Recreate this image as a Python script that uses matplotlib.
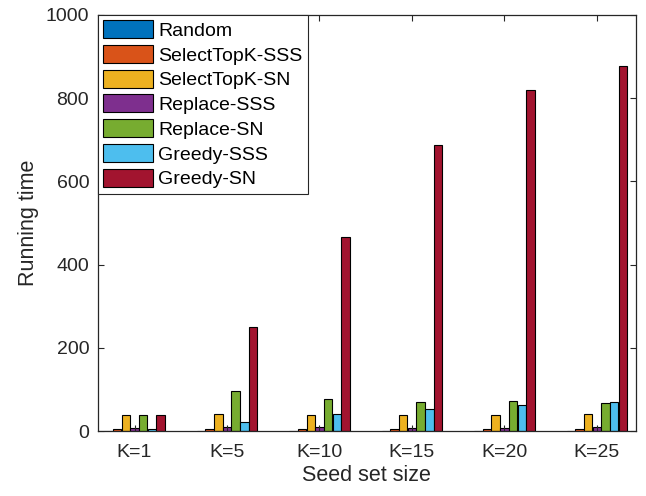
import numpy as np
import matplotlib.pyplot as plt

plt.rcParams['font.family'] = ['Liberation Sans', 'DejaVu Sans']

groups = ['K=1', 'K=5', 'K=10', 'K=15', 'K=20', 'K=25']
methods = ['Random', 'SelectTopK-SSS', 'SelectTopK-SN', 'Replace-SSS',
           'Replace-SN', 'Greedy-SSS', 'Greedy-SN']

# running time per method, one value per seed set size
random_t = [0.5, 0.5, 0.5, 0.5, 0.5, 0.5]
topk_sss = [4, 4, 4, 4, 4, 4]
topk_sn = [38, 40, 38, 38, 38, 42]
replace_sss = [8, 10, 9, 8, 8, 10]
replace_sn = [38, 95, 77, 69, 72, 67]
greedy_sss = [4, 22, 41, 52, 63, 70]
greedy_sn = [38, 249, 466, 688, 820, 876]

series = [random_t, topk_sss, topk_sn, replace_sss, replace_sn, greedy_sss, greedy_sn]
colors = ['#0072BD', '#D95319', '#EDB120', '#7E2F8E', '#77AC30', '#4DBEEE', '#A2142F']

fig = plt.figure(figsize=(6.46, 4.96), dpi=100)
ax = fig.add_axes([0.151, 0.131, 0.833, 0.839])

x = np.arange(1, len(groups) + 1)
slot = 0.094
for i, (vals, c, name) in enumerate(zip(series, colors, methods)):
    offs = (i - (len(series) - 1) / 2) * slot
    ax.bar(x + offs, vals, width=slot * 0.97, color=c, edgecolor='black',
           linewidth=0.8, label=name)

ax.set_xlim(0.6, 6.42)
ax.set_ylim(0, 1000)
ax.set_xticks(x)
ax.set_xticklabels(groups)
ax.set_yticks(np.arange(0, 1001, 200))
ax.tick_params(direction='in', length=4, width=0.8, labelsize=14,
               top=True, right=True, colors='#262626')
ax.tick_params(axis='x', pad=9)
ax.tick_params(axis='y', pad=6)
for s in ax.spines.values():
    s.set_linewidth(0.9)
    s.set_color('#262626')

ax.set_xlabel('Seed set size', fontsize=15.5, color='#262626', labelpad=3)
ax.set_ylabel('Running time', fontsize=15.5, color='#262626', labelpad=5)

leg = ax.legend(loc='upper left', bbox_to_anchor=(0, 1), borderaxespad=0,
                fontsize=14, handlelength=2.55, handleheight=1.05,
                labelspacing=0.26, handletextpad=0.3, borderpad=0.28,
                fancybox=False, framealpha=1)
leg.get_frame().set_edgecolor('#262626')
leg.get_frame().set_linewidth(0.8)

fig.savefig('out.png', dpi=100)
